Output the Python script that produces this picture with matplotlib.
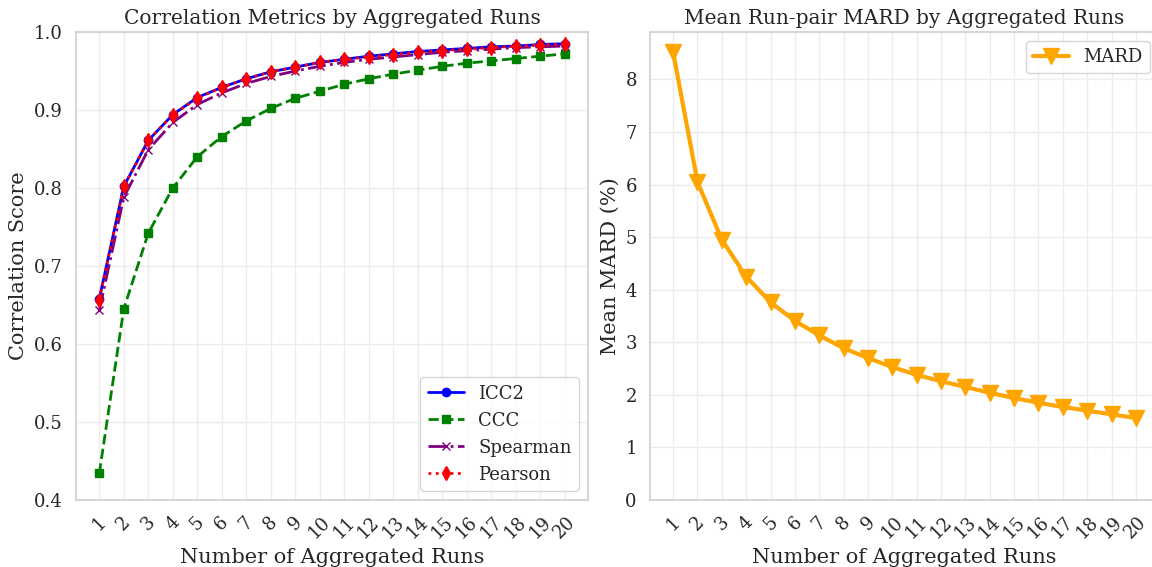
import matplotlib

matplotlib.use("Agg")
import matplotlib.pyplot as plt
import seaborn as sns

runs = list(range(1, 21))

icc2 = [0.658, 0.802, 0.861, 0.894, 0.916, 0.929, 0.940, 0.949, 0.955, 0.961,
        0.965, 0.969, 0.972, 0.975, 0.977, 0.979, 0.981, 0.982, 0.984, 0.985]
ccc = [0.434, 0.645, 0.742, 0.800, 0.840, 0.866, 0.886, 0.902, 0.915, 0.924,
       0.933, 0.940, 0.946, 0.951, 0.956, 0.960, 0.963, 0.966, 0.969, 0.972]
spearman = [0.643, 0.788, 0.849, 0.884, 0.907, 0.922, 0.934, 0.943, 0.950, 0.956,
            0.961, 0.965, 0.968, 0.971, 0.974, 0.976, 0.978, 0.980, 0.981, 0.982]
pearson = [0.657, 0.802, 0.861, 0.894, 0.915, 0.929, 0.940, 0.949, 0.955, 0.961,
           0.965, 0.968, 0.971, 0.974, 0.976, 0.978, 0.980, 0.982, 0.983, 0.985]

mard = [8.52, 6.05, 4.95, 4.25, 3.76, 3.41, 3.13, 2.89, 2.70, 2.53,
        2.38, 2.26, 2.15, 2.04, 1.94, 1.85, 1.77, 1.70, 1.63, 1.56]

sns.set_theme(style="whitegrid")
plt.rcParams["font.family"] = ["DejaVu Serif"]
plt.rcParams["axes.edgecolor"] = "#d0d0d0"
plt.rcParams["grid.color"] = "#ececec"

W, H = 1152, 567
fig = plt.figure(figsize=(W / 100, H / 100), dpi=100)
# axes boxes measured in pixels; the right panel runs slightly past the canvas edge
ax1 = fig.add_axes([76 / W, 1 - 500 / H, (588 - 76) / W, (500 - 32) / H])
ax2 = fig.add_axes([650 / W, 1 - 500 / H, (1159 - 650) / W, (500 - 32) / H])

ax1.plot(runs, icc2, color="blue", linestyle="-", marker="o", lw=2, ms=6, label="ICC2")
ax1.plot(runs, ccc, color="green", linestyle="--", marker="s", lw=2, ms=6, label="CCC")
ax1.plot(runs, spearman, color="purple", linestyle="-.", marker="x", lw=2, ms=6, label="Spearman")
ax1.plot(runs, pearson, color="red", linestyle=":", marker="d", lw=2, ms=7, label="Pearson")
ax1.set_ylim(0.4, 1.0)
ax1.set_xticks(runs)
ax1.tick_params(axis="x", labelrotation=45, labelsize=13)
ax1.tick_params(axis="y", labelsize=13)
ax1.set_xlabel("Number of Aggregated Runs", fontsize=15)
ax1.set_ylabel("Correlation Score", fontsize=15)
ax1.set_title("Correlation Metrics by Aggregated Runs", fontsize=14.5)
ax1.legend(loc="lower right", fontsize=13)

ax2.plot(runs, mard, color="orange", marker="v", lw=3, ms=11, label="MARD")
ax2.set_ylim(0, max(mard) * 1.045)
ax2.set_xticks(runs)
ax2.tick_params(axis="x", labelrotation=45, labelsize=13)
ax2.tick_params(axis="y", labelsize=13)
ax2.set_xlabel("Number of Aggregated Runs", fontsize=15)
ax2.set_ylabel("Mean MARD (%)", fontsize=15)
ax2.set_title("Mean Run-pair MARD by Aggregated Runs", fontsize=14.5)
ax2.legend(loc="upper right", fontsize=13)

fig.savefig("out.png", dpi=100)
